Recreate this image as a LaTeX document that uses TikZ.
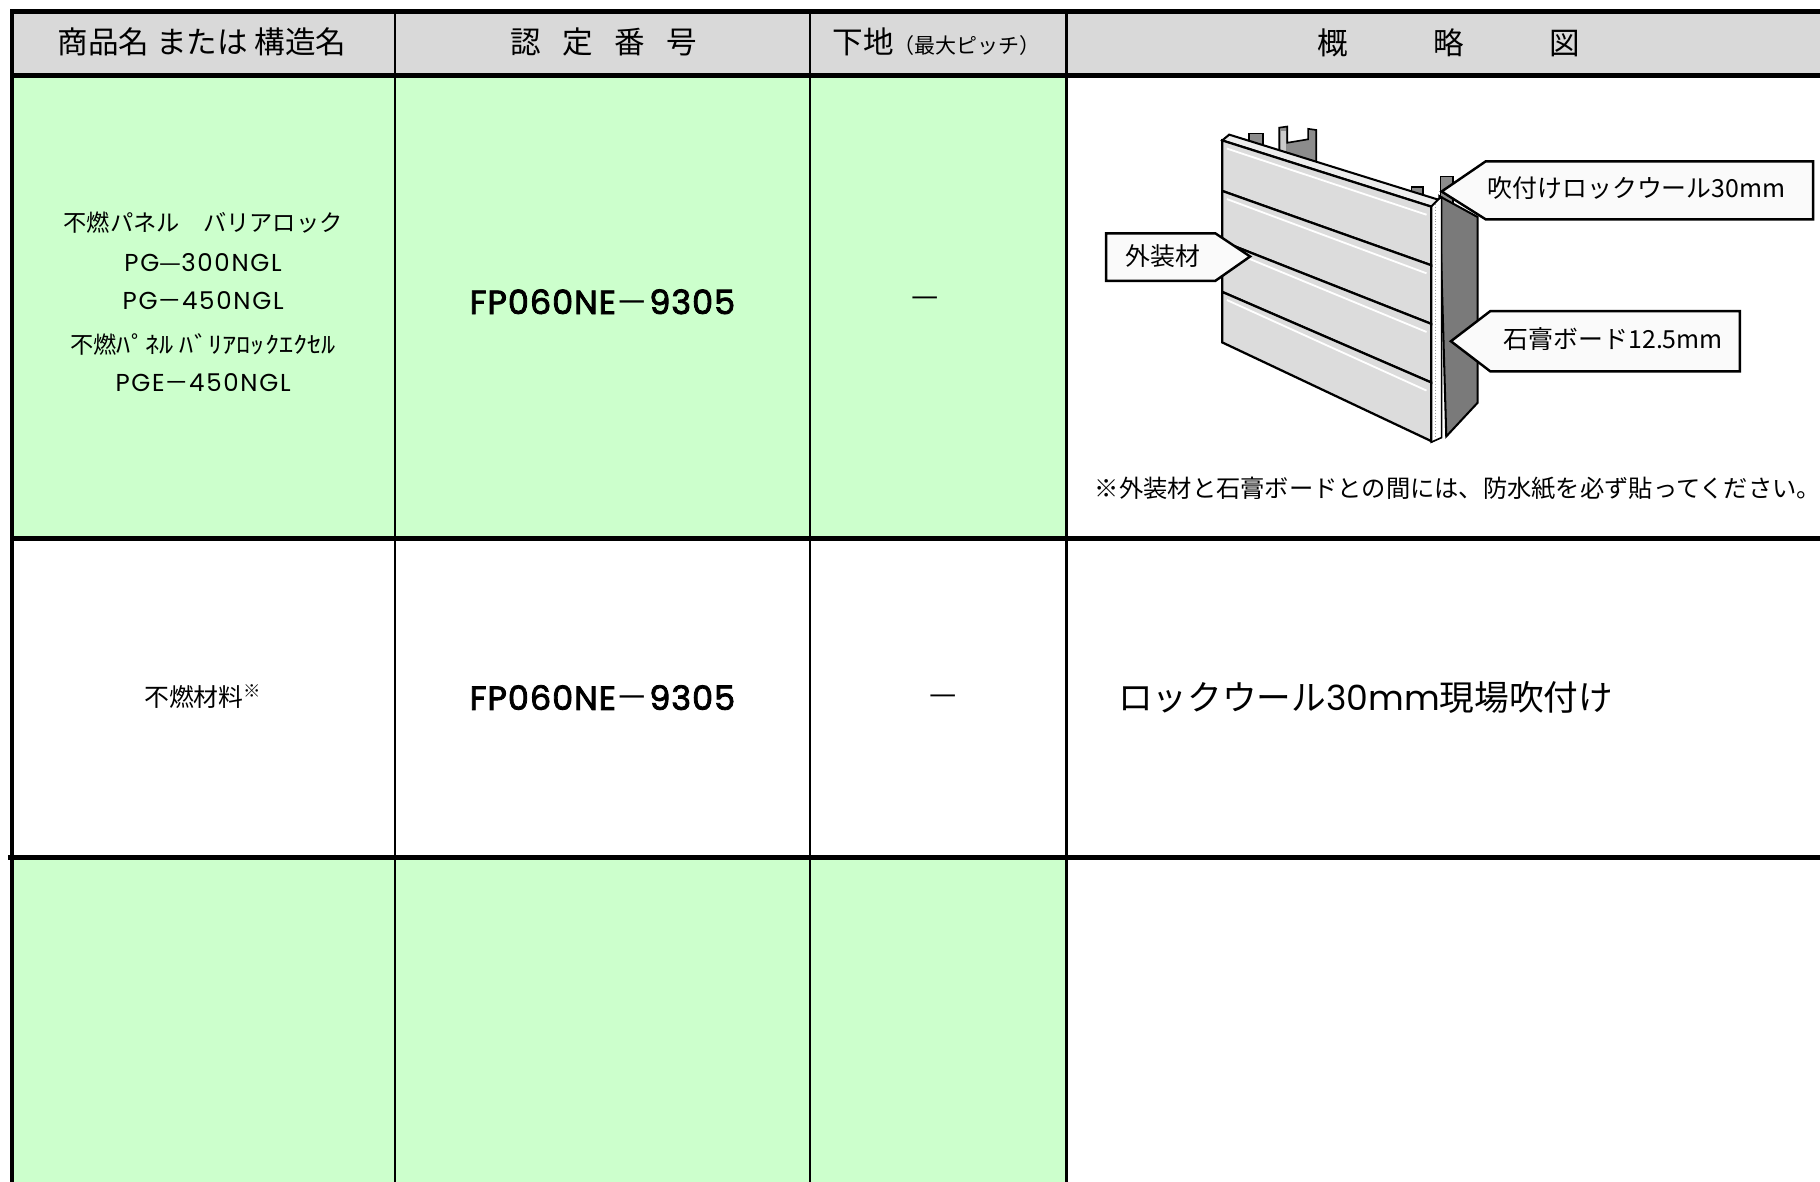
\documentclass[tikz,border=0pt]{standalone}
\usepackage{fontspec}
\usepackage{xcolor}
\setmainfont{Noto Sans CJK JP}
\newfontfamily\geo{Poppins}
\newfontfamily\geosp{Poppins}[LetterSpace=7]
\newfontfamily\geobold{Poppins}[FakeBold=2.5,LetterSpace=3]
\newfontfamily\jpwide{Noto Sans CJK JP}[FakeStretch=1.22]
\definecolor{hdgray}{HTML}{D9D9D9}
\definecolor{cellgreen}{HTML}{CCFFCC}
\definecolor{boardgray}{HTML}{DCDCDC}
\definecolor{sidegray}{HTML}{7A7A7A}
\definecolor{studgray}{HTML}{8C8C8C}
\definecolor{tagfill}{HTML}{FAFAFA}
\newcommand{\hdsize}{\fontsize{15pt}{17pt}\selectfont}
\newcommand{\jpsize}{\fontsize{11.4pt}{13pt}\selectfont}
\newcommand{\pgsize}{\fontsize{12pt}{14pt}\selectfont}
\newcommand{\fpsize}{\fontsize{16.4pt}{18pt}\selectfont}
\newcommand{\nmsize}{\fontsize{12.2pt}{14pt}\selectfont}
\newcommand{\bigsize}{\fontsize{17pt}{19pt}\selectfont}
\newcommand{\lbsize}{\fontsize{12.2pt}{14pt}\selectfont}

\begin{document}
\begin{tikzpicture}[scale=0.2]
\tikzstyle{every node}+=[inner sep=0pt]
\useasboundingbox (0,0) rectangle (156.8,-101.8);
\fill [hdgray] (1.1,-1.0) rectangle (156.8,-6.5);
\fill [cellgreen] (1.1,-6.5) rectangle (91.9,-46.4);
\fill [cellgreen] (1.1,-73.9) rectangle (91.9,-101.8);
\draw [black, line width=0.85pt] (34.0,-1.0) -- (34.0,-101.8);
\draw [black, line width=1.1pt] (69.8,-1.0) -- (69.8,-101.8);
\draw [black, line width=1.7pt] (91.9,-1.0) -- (91.9,-101.8);
\draw [black, line width=1.7pt] (1.05,-1.0) -- (1.05,-101.8);
\draw [black, line width=2.3pt] (0.9,-1.0) -- (156.8,-1.0);
\draw [black, line width=2.3pt] (0.9,-6.5) -- (156.8,-6.5);
\draw [black, line width=2.3pt] (0.9,-46.4) -- (156.8,-46.4);
\draw [black, line width=2.3pt] (0.7,-73.9) -- (156.8,-73.9);
\draw (17.4,-3.65) node (hdname) {\hdsize 商品名 または 構造名};
\draw (52.0,-3.65) node (hdcert) {\hdsize 認\hspace{0.7em}定\hspace{0.7em}番\hspace{0.7em}号};
\draw (80.7,-3.65) node (hdbase) {\hdsize 下地{\fontsize{10.3pt}{12pt}\selectfont（最大ピッチ）}};
\draw (124.8,-3.65) node (hdfig) {\hdsize 概\hspace{2.8em}略\hspace{2.8em}図};
\draw (17.5,-19.2) node (nameA) {\jpsize 不燃パネル　バリアロック};
\draw (17.5,-22.6) node (nameB) {\pgsize{\geosp PG}—{\geosp 300NGL}};
\draw (17.5,-25.9) node (nameC) {\pgsize{\geosp PG}－{\geosp 450NGL}};
\draw (17.5,-29.7) node (nameD) {\jpsize 不燃{\jpwide ﾊﾟﾈﾙ ﾊﾞﾘｱﾛｯｸｴｸｾﾙ}};
\draw (17.5,-33.0) node (nameE) {\pgsize{\geosp PGE}－{\geosp 450NGL}};
\draw (51.9,-26.0) node (certA) {\fpsize{\geobold FP060NE}－{\geobold 9305}};
\draw (79.7,-26.0) node (baseA) {\hdsize —};
\draw (17.5,-60.0) node (nameF) {\nmsize 不燃材料\textsuperscript{※}};
\draw (51.9,-60.1) node (certB) {\fpsize{\geobold FP060NE}－{\geobold 9305}};
\draw (81.3,-60.3) node (baseB) {\hdsize —};
\draw (96.3,-60.1) node [right] (figB) {\bigsize ロックウール{\geo 30mm}現場吹付け};
\draw [black, line width=0.8pt, fill=studgray] (110.2,-11.0) -- (110.9,-10.9) -- (110.9,-12.3) -- (112.7,-12.0) -- (112.7,-11.1) -- (113.4,-11.2) -- (113.4,-14.8) -- (110.2,-14.8) -- cycle;
\fill [studgray!45] (110.4,-11.3) rectangle (110.75,-14.6);
\draw [black, line width=0.8pt, fill=studgray] (107.6,-11.5) rectangle (108.8,-13.6);
\draw [black, line width=0.8pt, fill=studgray] (121.6,-16.1) rectangle (122.6,-18.0);
\draw [black, line width=0.8pt, fill=studgray] (124.1,-15.2) rectangle (125.2,-17.8);
\draw [black, line width=1pt, fill=sidegray] (124.0,-16.9) -- (127.3,-18.7) -- (127.3,-34.7) -- (124.6,-37.6) -- cycle;
\draw [black, line width=0.8pt, fill=white] (123.2,-17.5) -- (124.2,-17.0) -- (124.2,-37.7) -- (123.3,-38.1) -- cycle;
\draw [black!40, densely dotted] (123.7,-17.6) -- (123.7,-37.7);
\draw [black, line width=1pt, fill=boardgray!50] (105.3,-12.1) -- (105.9,-11.6) -- (123.9,-17.2) -- (123.3,-17.8) -- cycle;
\draw [black, line width=1.1pt, fill=boardgray] (105.3,-12.1) -- (123.3,-17.8) -- (123.3,-22.85) -- (105.3,-16.45) -- cycle;
\draw [white, line width=0.9pt] (105.7,-12.8) -- (122.9,-18.5);
\draw [black, line width=1.1pt, fill=boardgray] (105.3,-16.45) -- (123.3,-22.85) -- (123.3,-27.9) -- (105.3,-20.8) -- cycle;
\draw [white, line width=0.9pt] (105.7,-17.15) -- (122.9,-23.55);
\draw [black, line width=1.1pt, fill=boardgray] (105.3,-20.8) -- (123.3,-27.9) -- (123.3,-32.95) -- (105.3,-25.15) -- cycle;
\draw [white, line width=0.9pt] (105.7,-21.5) -- (122.9,-28.6);
\draw [black, line width=1.1pt, fill=boardgray] (105.3,-25.15) -- (123.3,-32.95) -- (123.3,-38.0) -- (105.3,-29.5) -- cycle;
\draw [white, line width=0.9pt] (105.7,-25.85) -- (122.9,-33.65);
\draw [black, line width=1.2pt, fill=tagfill] (128.0,-13.9) -- (156.2,-13.9) -- (156.2,-18.9) -- (128.0,-18.9) -- (124.2,-16.5) -- cycle;
\draw (141.0,-16.2) node (lblwool) {\lbsize 吹付けロックウール30mm};
\draw [black, line width=1.2pt, fill=tagfill] (95.3,-20.1) -- (104.7,-20.1) -- (107.7,-22.1) -- (104.7,-24.2) -- (95.3,-24.2) -- cycle;
\draw (100.2,-22.1) node (lblface) {\lbsize 外装材};
\draw [black, line width=1.2pt, fill=tagfill] (128.4,-26.8) -- (149.9,-26.8) -- (149.9,-32.0) -- (128.4,-32.0) -- (125.0,-29.4) -- cycle;
\draw (139.0,-29.2) node (lblboard) {\lbsize 石膏ボード12.5mm};
\draw (94.3,-42.1) node [right] (fignote) {\fontsize{11.9pt}{13pt}\selectfont ※外装材と石膏ボードとの間には、防水紙を必ず貼ってください。};
\end{tikzpicture}
\end{document}
